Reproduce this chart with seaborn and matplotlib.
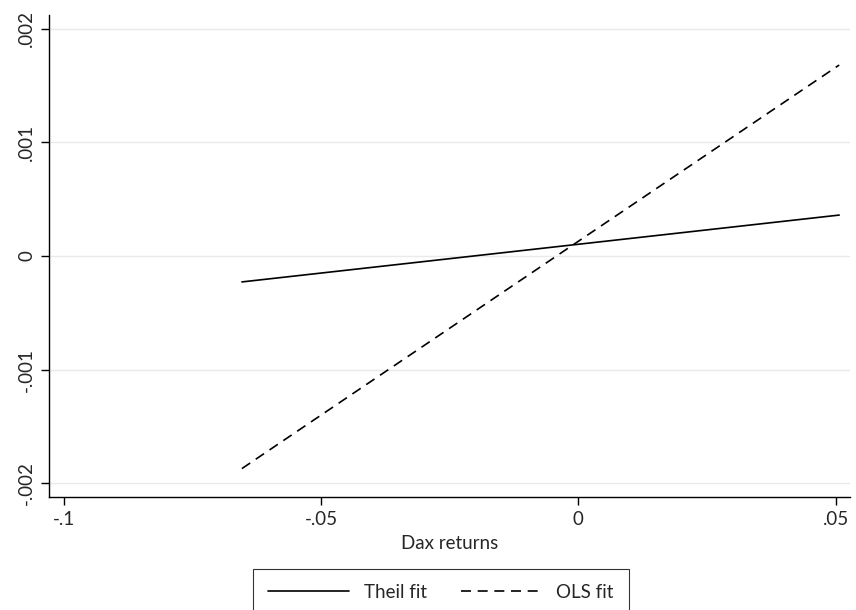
import matplotlib
matplotlib.use("Agg")
import matplotlib.pyplot as plt
import seaborn as sns
import pandas as pd

x_ends = [-0.0654, 0.0507]
theil_fit = [-0.000228, 0.00036]
ols_fit = [-0.00187, 0.00168]
x_ticks = [-0.1, -0.05, 0, 0.05]
x_labels = ["-.1", "-.05", "0", ".05"]
y_ticks = [-0.002, -0.001, 0, 0.001, 0.002]
y_labels = ["-.002", "-.001", "0", ".001", ".002"]

sns.set_theme(style="white")
plt.rcParams['font.family'] = ['Lato', 'DejaVu Sans']

df = pd.DataFrame({
    "x": x_ends * 2,
    "y": theil_fit + ols_fit,
    "series": ["Theil fit"] * 2 + ["OLS fit"] * 2,
})

fig = plt.figure(figsize=(8.56, 6.10), dpi=100)
ax = fig.add_axes([49/856, 1-497/610, (850-49)/856, (497-15)/610])

for yt in y_ticks:
    ax.axhline(yt, color="#eaeaea", lw=1.0, zorder=0)

sns.lineplot(data=df, x="x", y="y", hue="series", style="series",
             palette={"Theil fit": "black", "OLS fit": "black"},
             dashes={"Theil fit": "", "OLS fit": (6, 4)},
             lw=1.2, ax=ax, legend=False)

fs = 13.5
ax.set_xlim(-0.1029, 0.0528)
ax.set_ylim(-0.00212, 0.00212)
ax.set_xticks(x_ticks)
ax.set_xticklabels(x_labels, fontsize=fs)
ax.set_yticks(y_ticks)
ax.set_yticklabels(y_labels, fontsize=fs, rotation=90, va="center")
ax.tick_params(axis="both", direction="out", length=6, width=1, color="black",
               bottom=True, left=True, pad=4)
ax.set_xlabel("Dax returns", fontsize=fs, labelpad=5)
ax.set_ylabel("")
for s in ["top", "right"]:
    ax.spines[s].set_visible(False)
for s in ["left", "bottom"]:
    ax.spines[s].set_color("black")
    ax.spines[s].set_linewidth(1.0)

from matplotlib.lines import Line2D
handles = [Line2D([], [], color="black", lw=1.2),
           Line2D([], [], color="black", lw=1.2, dashes=(6, 4))]
leg = fig.legend(handles, ["Theil fit", "OLS fit"], loc="upper center",
                 bbox_to_anchor=(441/856, 1-569/610), ncol=2, fontsize=fs,
                 frameon=True, fancybox=False, edgecolor="black",
                 handlelength=4.3, columnspacing=1.8, borderpad=0.8,
                 borderaxespad=0)
leg.get_frame().set_linewidth(0.8)

fig.savefig("out.png", dpi=100)
